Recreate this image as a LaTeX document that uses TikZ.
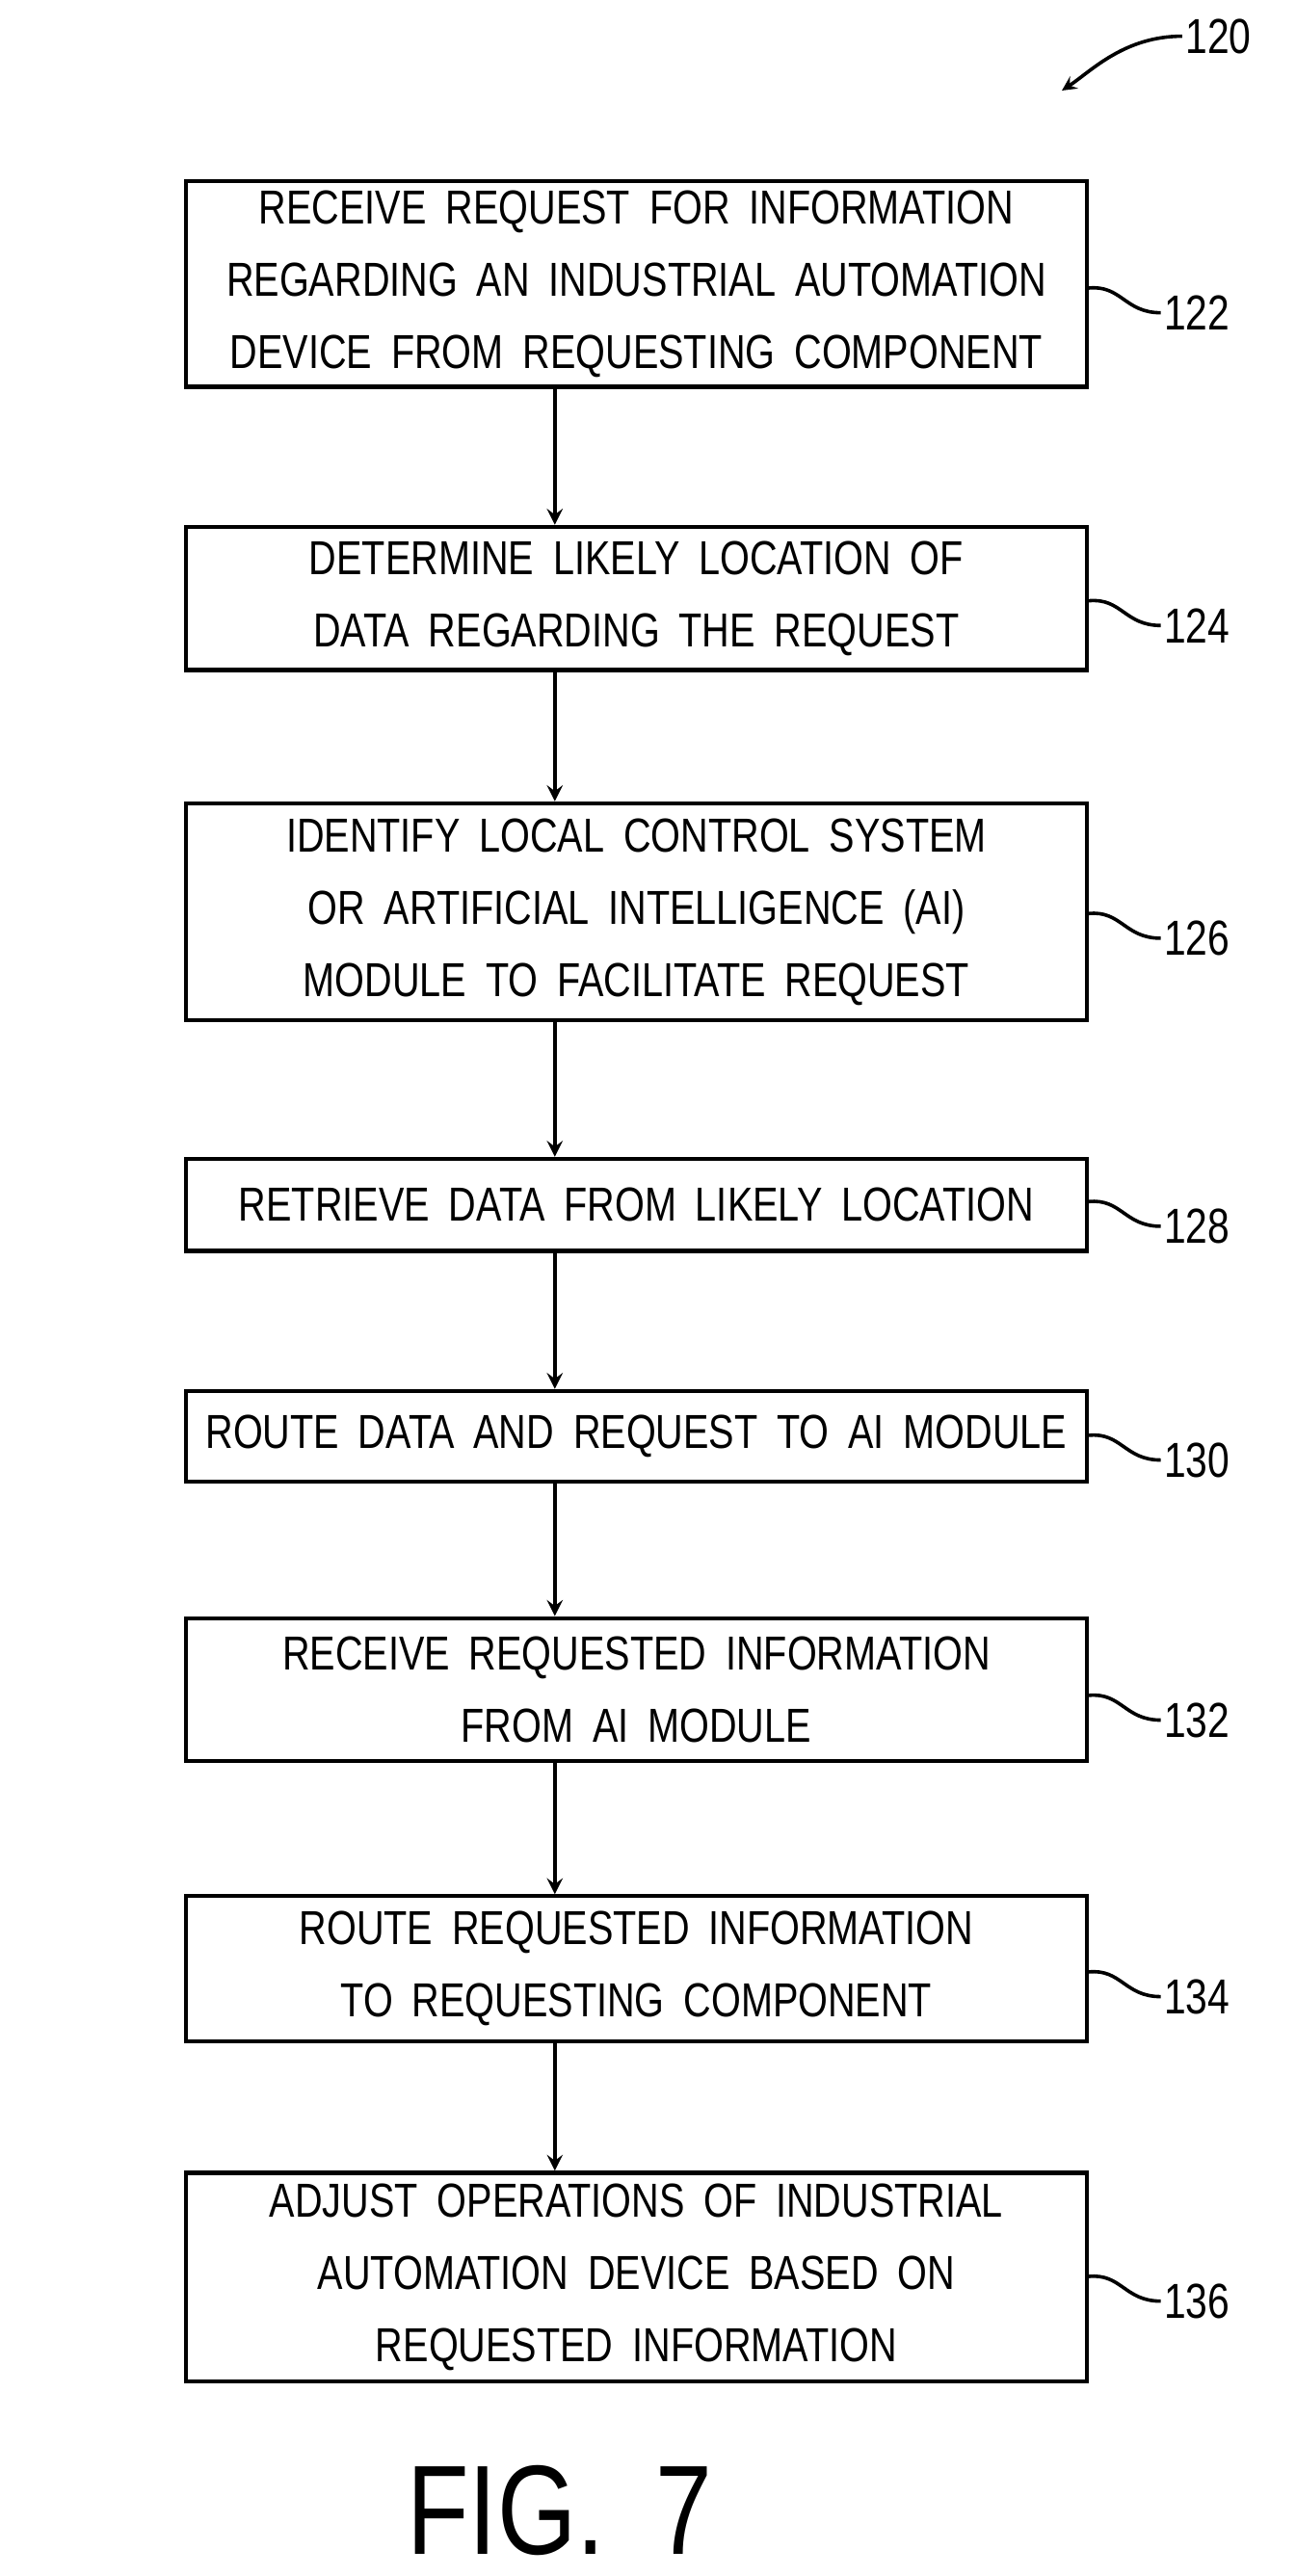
\documentclass[tikz,border=0pt]{standalone}
\usepackage{fontspec}
\setmainfont{Liberation Sans}[FakeStretch=0.8,WordSpace=1.8]
\begin{document}
\begin{tikzpicture}[x=0.02cm,y=-0.02cm]
\tikzset{stepbox/.style = {draw,line width=1.4pt,minimum width=10.94cm,align=center,font=\fontsize{16.5}{25}\selectfont,inner sep=0pt}}
\tikzset{flow/.style = {->,>=stealth,line width=1.4pt}}
\tikzset{ref/.style = {font=\fontsize{17}{20}\selectfont,inner sep=1pt,anchor=west}}
\tikzset{lead/.style = {line width=1.2pt}}
\useasboundingbox (0,0) rectangle (787,1565);
% steps
\node[stepbox,minimum height=2.5cm] (s122) at (386.5,172.5) {RECEIVE REQUEST FOR INFORMATION\\REGARDING AN INDUSTRIAL AUTOMATION\\DEVICE FROM REQUESTING COMPONENT};
\node[stepbox,minimum height=1.74cm] (s124) at (386.5,363.5) {DETERMINE LIKELY LOCATION OF\\DATA REGARDING THE REQUEST};
\node[stepbox,minimum height=2.64cm] (s126) at (386.5,554) {IDENTIFY LOCAL CONTROL SYSTEM\\OR ARTIFICIAL INTELLIGENCE (AI)\\MODULE TO FACILITATE REQUEST};
\node[stepbox,minimum height=1.12cm] (s128) at (386.5,732) {RETRIEVE DATA FROM LIKELY LOCATION};
\node[stepbox,minimum height=1.1cm] (s130) at (386.5,872.5) {ROUTE DATA AND REQUEST TO AI MODULE};
\node[stepbox,minimum height=1.74cm] (s132) at (386.5,1026.5) {RECEIVE REQUESTED INFORMATION\\FROM AI MODULE};
\node[stepbox,minimum height=1.76cm] (s134) at (386.5,1196) {ROUTE REQUESTED INFORMATION\\TO REQUESTING COMPONENT};
\node[stepbox,minimum height=2.54cm] (s136) at (386.5,1383.5) {ADJUST OPERATIONS OF INDUSTRIAL\\AUTOMATION DEVICE BASED ON\\REQUESTED INFORMATION};
% arrows
\coordinate (axis) at (337,0);
\foreach \a/\b in {s122/s124,s124/s126,s126/s128,s128/s130,s130/s132,s132/s134,s134/s136}
  \draw[flow] (\a.south -| axis) -- (\b.north -| axis);
% reference numerals
\foreach \n/\y in {122/190,124/380,126/570,128/745,130/887,132/1045,134/1213,136/1398}{
  \node[ref] (r\n) at (705,\y) {\n};
  \draw[lead] ([yshift=0.3cm]s\n.east |- r\n.west) .. controls +(20,-2) and +(-22,0) .. (r\n.west);
}
\node[ref] (r120) at (718,22) {120};
\coordinate (t120) at (645,55);
\draw[lead,->,>=stealth] (r120.west) .. controls +(-35,0) and +(18,-12) .. (t120);
\node[font=\fontsize{44}{48}\selectfont] (fig) at (340,1525) {FIG. 7};
\end{tikzpicture}
\end{document}
